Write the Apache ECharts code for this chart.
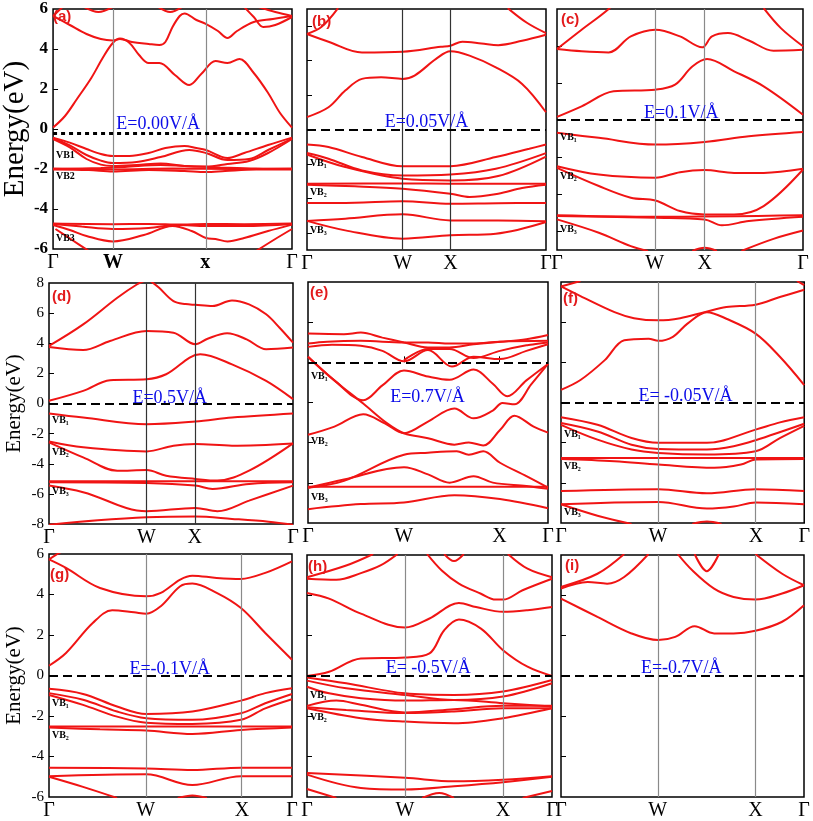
<!DOCTYPE html>
<html><head><meta charset="utf-8">
<script src="https://cdn.jsdelivr.net/npm/echarts@6/dist/echarts.min.js"></script>
<style>html,body{margin:0;padding:0;background:#fff}#c{width:813px;height:821px}</style>
</head><body><div id="c"></div><script>
// ---------- DATA ----------
const panelLetters = ['(a)','(b)','(c)','(d)','(e)','(f)','(g)','(h)','(i)'];
const kW = [0.251,0.40,0.397,0.399,0.399,0.399,0.398,0.40,0.398];
const kX = [0.637,0.60,0.60,0.597,0.798,0.802,0.794,0.80,0.80];
const yMin = [-6,-7,-7,-8,-8,-6,-6,-6,-6];
const yMax = [6,7,6,8,4,6,6,6,6];
const fermi = [-0.2,0,0,0,0,0,0,0,0];
const fieldText = ['E=0.00V/Å','E=0.05V/Å','E=0.1V/Å','E=0.5V/Å','E=0.7V/Å','E= -0.05V/Å','E=-0.1V/Å','E= -0.5V/Å','E=-0.7V/Å'];
const fieldPos = [[0.44,0.22],[0.5,0.42],[0.505,0.38],[0.495,0.38],[0.498,-1.72],[0.512,0.3],[0.497,0.3],[0.495,0.36],[0.495,0.36]];
const vbNames = [['VB1','VB2','VB3'],['VB₁','VB₂','VB₃'],['VB₁','VB₂','VB₃'],['VB₁','VB₂','VB₃'],['VB₁','VB₂','VB₃'],['VB₁','VB₂','VB₃'],['VB₁','VB₂'],['VB₁','VB₂'],[]];
const vbLevels = [[-1.32,-2.36,-5.48],[-1.99,-3.63,-5.86],[-0.95,-3.02,-5.89],[-1.15,-3.24,-5.83],[-0.71,-3.94,-6.73],[-1.6,-3.17,-5.48],[-1.4,-2.94],[-0.94,-2.04],[]];

const bandsA = [
 [[0,0.07],[0.05,0.65],[0.1,1.5],[0.16,2.55],[0.21,3.6],[0.25,4.3],[0.28,4.52],[0.32,4.3],[0.36,3.7],[0.40,3.3],[0.445,3.3],[0.51,2.7],[0.57,2.2],[0.62,2.75],[0.68,3.4],[0.73,3.3],[0.78,3.5],[0.84,2.8],[0.9,1.8],[0.95,0.8],[1,0.07]],
 [[0,5.65],[0.07,5.2],[0.14,4.75],[0.2,4.5],[0.25,4.43],[0.28,4.5],[0.33,4.35],[0.4,4.25],[0.445,4.2],[0.47,4.35],[0.5,5.1],[0.53,5.65],[0.55,5.78],[0.6,5.45],[0.637,5.27],[0.69,4.9],[0.73,4.55],[0.77,4.9],[0.84,5.35],[0.92,5.5],[1,5.65]],
 [[0.8,6.1],[0.84,5.6],[0.88,5.1],[0.93,5.2],[1,5.6]],
 [[0.13,6.1],[0.19,5.85],[0.25,6.1]],
 [[0.44,6.1],[0.49,5.85],[0.54,6.1]],
 [[0,5.65],[0.04,6.1]],
 [[0.86,6.1],[0.93,5.85],[1,5.65]],
 [[0,-0.43],[0.07,-0.68],[0.14,-1.0],[0.2,-1.25],[0.25,-1.35],[0.32,-1.35],[0.4,-1.2],[0.47,-0.95],[0.55,-0.85],[0.6,-0.95],[0.64,-1.05],[0.73,-1.45],[0.8,-1.2],[0.9,-0.8],[1,-0.43]],
 [[0,-0.46],[0.07,-0.82],[0.14,-1.3],[0.2,-1.58],[0.25,-1.7],[0.35,-1.65],[0.45,-1.4],[0.57,-1.05],[0.64,-1.2],[0.73,-1.55],[0.82,-1.5],[0.9,-1.05],[1,-0.48]],
 [[0,-0.5],[0.07,-0.92],[0.14,-1.5],[0.2,-1.78],[0.25,-1.85],[0.35,-1.8],[0.45,-1.72],[0.55,-1.85],[0.64,-1.88],[0.73,-1.75],[0.82,-1.6],[0.9,-1.2],[1,-0.5]],
 [[0,-1.98],[0.25,-2.02],[0.5,-1.98],[0.75,-2.0],[1,-1.98]],
 [[0,-2.02],[0.15,-2.05],[0.25,-2.12],[0.4,-2.05],[0.55,-2.1],[0.64,-2.15],[0.72,-2.1],[0.85,-2.03],[1,-2.02]],
 [[0,-2.0],[0.2,-1.95],[0.3,-1.9],[0.45,-1.8],[0.55,-1.85],[0.7,-1.92],[0.85,-1.98],[1,-2.0]],
 [[0,-4.73],[0.25,-4.76],[0.4,-4.75],[0.54,-4.78],[0.64,-4.75],[0.8,-4.76],[1,-4.73]],
 [[0,-4.75],[0.12,-4.88],[0.25,-5.0],[0.4,-4.95],[0.52,-4.8],[0.64,-4.85],[0.8,-4.85],[1,-4.75]],
 [[0,-4.8],[0.07,-5.05],[0.14,-5.35],[0.25,-5.62],[0.38,-5.3],[0.5,-4.85],[0.58,-5.1],[0.64,-5.45],[0.68,-5.5],[0.73,-5.62],[0.8,-5.45],[0.9,-5.1],[1,-4.78]],
 [[0.01,-5.0],[0.08,-5.55],[0.15,-6.1]],
 [[0.85,-6.1],[0.93,-5.5],[1,-5.0]]
];
const bandsB = [
 [[0,5.55],[0.06,5.95],[0.13,7.05]],
 [[0.84,7.05],[0.92,6.2],[1,5.6]],
 [[0,5.55],[0.09,5.1],[0.23,4.48],[0.4,4.52],[0.56,4.81],[0.6,4.87],[0.65,5.1],[0.73,5.0],[0.8,4.9],[0.9,5.15],[1,5.5]],
 [[0,0.72],[0.09,1.29],[0.16,2.26],[0.23,2.94],[0.31,3.03],[0.4,2.94],[0.45,3.13],[0.54,4.1],[0.6,4.54],[0.68,4.29],[0.79,3.61],[0.9,2.65],[1,1.0]],
 [[0,-0.87],[0.09,-1.02],[0.23,-1.6],[0.4,-2.14],[0.6,-2.13],[0.79,-1.6],[0.93,-1.12],[1,-0.87]],
 [[0,-1.37],[0.09,-1.7],[0.23,-2.38],[0.4,-2.67],[0.6,-2.61],[0.79,-2.28],[1,-1.37]],
 [[0,-1.45],[0.16,-2.18],[0.4,-2.86],[0.6,-2.96],[0.8,-2.7],[1,-1.57]],
 [[0,-3.15],[0.4,-3.13],[0.6,-3.15],[1,-3.15]],
 [[0,-3.21],[0.2,-3.3],[0.4,-3.44],[0.6,-3.73],[0.68,-3.92],[0.8,-3.73],[0.9,-3.4],[1,-3.21]],
 [[0,-4.27],[0.2,-4.25],[0.4,-4.17],[0.6,-4.31],[0.8,-4.28],[1,-4.27]],
 [[0,-5.31],[0.16,-5.18],[0.4,-4.93],[0.6,-5.28],[0.8,-5.28],[1,-5.33]],
 [[0,-5.31],[0.16,-5.86],[0.4,-6.34],[0.6,-6.14],[0.79,-6.05],[1,-5.37]]
];
const bandsC = [
 [[0,3.84],[0.1,4.88],[0.21,6.0],[0.24,6.5]],
 [[0,3.84],[0.1,3.72],[0.21,3.66],[0.3,4.52],[0.4,4.88],[0.5,4.52],[0.59,3.93],[0.63,4.52],[0.695,4.7],[0.78,4.3],[0.88,3.75],[1,3.8]],
 [[0.84,6.05],[0.91,4.97],[1,3.99]],
 [[0,0.18],[0.1,0.75],[0.23,1.56],[0.4,1.65],[0.48,1.92],[0.55,2.9],[0.61,3.3],[0.72,2.64],[0.84,1.83],[1,0.3]],
 [[0,-0.68],[0.17,-0.95],[0.4,-1.31],[0.6,-1.17],[0.78,-0.86],[1,-0.63]],
 [[0,-2.48],[0.17,-2.93],[0.4,-3.1],[0.5,-2.8],[0.6,-2.69],[0.72,-2.84],[0.84,-2.84],[1,-2.62]],
 [[0,-2.57],[0.17,-3.55],[0.3,-4.18],[0.4,-4.33],[0.5,-4.9],[0.6,-5.08],[0.72,-5.08],[0.84,-4.63],[1,-2.66]],
 [[0,-5.13],[0.4,-5.21],[1,-5.13]],
 [[0,-5.17],[0.4,-5.26],[0.6,-5.35],[0.67,-5.67],[0.78,-5.44],[1,-5.21]],
 [[0,-5.35],[0.17,-6.07],[0.3,-6.79],[0.37,-7.05]],
 [[0.55,-7.05],[0.6,-6.88],[0.65,-7.05]],
 [[0.75,-7.05],[0.88,-6.4],[1,-5.95]]
];
const bandsD = [
 [[0,3.82],[0.14,5.25],[0.28,7.02],[0.36,7.9],[0.4,8.2]],
 [[0.41,8.2],[0.45,7.7],[0.51,6.8],[0.56,6.6],[0.6,6.55],[0.67,6.47],[0.75,6.84],[0.82,6.58],[0.89,5.92],[0.945,5.03],[1,4.04]],
 [[0,3.75],[0.14,3.55],[0.25,4.15],[0.4,4.81],[0.51,4.7],[0.6,3.93],[0.65,4.3],[0.73,4.66],[0.81,4.26],[0.89,3.6],[1,3.71]],
 [[0,0.18],[0.14,0.84],[0.25,1.55],[0.4,1.61],[0.48,1.94],[0.62,3.27],[0.75,2.6],[0.89,1.5],[1,0.29]],
 [[0,-0.66],[0.14,-0.93],[0.4,-1.37],[0.6,-1.19],[0.75,-0.93],[1,-0.66]],
 [[0,-2.52],[0.14,-2.91],[0.4,-3.18],[0.51,-2.8],[0.6,-2.69],[0.75,-2.8],[1,-2.65]],
 [[0,-2.58],[0.14,-3.58],[0.28,-4.46],[0.4,-4.42],[0.48,-4.79],[0.6,-5.01],[0.69,-5.12],[0.82,-4.46],[1,-2.65]],
 [[0,-5.17],[0.5,-5.17],[1,-5.17]],
 [[0,-5.23],[0.4,-5.28],[0.6,-5.45],[0.67,-5.67],[0.82,-5.34],[1,-5.23]],
 [[0,-5.45],[0.14,-5.89],[0.4,-7.15],[0.6,-6.93],[0.69,-7.15],[0.82,-6.45],[1,-5.45]],
 [[0,-8.05],[0.2,-7.75],[0.4,-7.55],[0.6,-7.5],[0.75,-7.66],[0.9,-7.85],[1,-8.05]]
];
const bandsE = [
 [[0,1.43],[0.15,1.4],[0.22,1.48],[0.31,1.23],[0.4,0.99],[0.5,0.74],[0.59,0.74],[0.69,0.9],[0.8,1.02],[0.91,1.15],[1,1.36]],
 [[0,0.94],[0.08,1.03],[0.22,1.07],[0.4,0.99],[0.5,0.99],[0.59,0.94],[0.69,0.94],[0.8,1.03],[1,1.07]],
 [[0,0.77],[0.1,0.87],[0.22,0.82],[0.31,0.57],[0.4,0.05],[0.5,0.61],[0.6,-0.21],[0.69,0.28],[0.8,0.16],[0.91,0.57],[1,0.9]],
 [[0.4,0.11],[0.5,0.66],[0.59,0.66],[0.69,0.21],[0.8,0.57],[0.91,0.85],[1,0.99]],
 [[0,0.28],[0.11,-0.9],[0.23,-1.89],[0.31,-1.15],[0.4,-0.41],[0.5,-0.71],[0.59,-0.87],[0.69,-0.36],[0.77,-1.07],[0.83,-1.69],[0.91,-0.9],[1,-0.08]],
 [[0,0.28],[0.11,-0.9],[0.23,-2.05],[0.33,-3.04],[0.4,-3.53],[0.5,-3.78],[0.61,-4.1],[0.67,-3.99],[0.73,-4.14],[0.8,-3.37],[0.86,-2.66],[0.94,-3.2],[1,-3.5]],
 [[0,-3.61],[0.11,-3.2],[0.23,-2.58],[0.32,-3.04],[0.4,-3.53],[0.5,-2.95],[0.61,-2.3],[0.69,-2.79],[0.77,-2.4],[0.81,-2.02],[0.86,-2.09],[0.93,-1.1],[1,-0.08]],
 [[0,-6.24],[0.15,-5.9],[0.4,-4.6],[0.5,-4.5],[0.62,-4.43],[0.67,-4.6],[0.73,-4.43],[0.8,-5.0],[0.91,-5.67],[1,-6.24]],
 [[0,-6.24],[0.15,-5.83],[0.4,-5.22],[0.5,-5.58],[0.59,-5.99],[0.69,-5.67],[0.77,-5.99],[0.91,-6.16],[1,-6.3]],
 [[0,-6.19],[0.5,-6.19],[1,-6.19]],
 [[0,-7.31],[0.22,-7.06],[0.4,-6.98],[0.61,-6.62],[0.8,-6.81],[1,-7.27]]
];
const bandsF = [
 [[0,5.78],[0.08,6.05]],
 [[0,5.78],[0.08,5.3],[0.22,4.5],[0.3,4.2],[0.4,4.09],[0.49,4.2],[0.59,4.5],[0.68,4.75],[0.8,4.87],[0.9,5.25],[1,5.61]],
 [[0.97,6.05],[1,5.85]],
 [[0,0.63],[0.08,1.12],[0.18,2.11],[0.26,3.1],[0.36,3.18],[0.4,3.07],[0.46,3.27],[0.52,3.93],[0.6,4.5],[0.68,4.17],[0.8,3.43],[0.9,2.28],[1,0.87]],
 [[0,-0.73],[0.15,-1.11],[0.29,-1.77],[0.4,-2.01],[0.6,-2.01],[0.8,-1.35],[0.9,-0.99],[1,-0.73]],
 [[0,-1.02],[0.15,-1.44],[0.29,-2.1],[0.4,-2.31],[0.6,-2.34],[0.71,-2.18],[0.8,-1.88],[1,-1.06]],
 [[0,-1.11],[0.15,-1.85],[0.29,-2.34],[0.4,-2.51],[0.6,-2.59],[0.8,-2.43],[0.9,-1.77],[1,-1.16]],
 [[0,-2.76],[0.5,-2.76],[1,-2.76]],
 [[0,-2.81],[0.22,-2.92],[0.4,-3.09],[0.63,-3.25],[0.74,-3.09],[0.8,-2.84],[1,-2.81]],
 [[0,-4.41],[0.4,-4.32],[0.6,-4.52],[0.8,-4.32],[1,-4.41]],
 [[0,-5.07],[0.22,-4.98],[0.4,-4.95],[0.6,-5.28],[0.71,-5.18],[0.8,-4.98],[1,-5.07]],
 [[0,-5.07],[0.15,-5.64],[0.29,-6.05]],
 [[0.54,-6.05],[0.6,-5.93],[0.66,-6.05]]
];
const bandsG = [
 [[0,5.73],[0.03,5.97],[0.05,6.1]],
 [[0,5.73],[0.07,5.31],[0.21,4.32],[0.4,3.91],[0.46,4.08],[0.54,4.74],[0.59,4.93],[0.69,4.82],[0.79,4.77],[0.89,5.07],[1,5.64]],
 [[0,0.48],[0.07,1.11],[0.18,2.59],[0.26,3.22],[0.35,3.12],[0.4,3.05],[0.46,3.42],[0.54,4.41],[0.59,4.54],[0.69,4.08],[0.79,3.33],[0.89,2.1],[1,0.78]],
 [[0,-0.66],[0.14,-0.91],[0.28,-1.53],[0.4,-1.9],[0.59,-1.78],[0.79,-1.24],[0.89,-0.87],[1,-0.63]],
 [[0,-0.87],[0.14,-1.2],[0.28,-1.78],[0.4,-2.11],[0.59,-2.19],[0.79,-1.86],[0.89,-1.37],[1,-0.91]],
 [[0,-0.96],[0.14,-1.45],[0.28,-2.03],[0.4,-2.33],[0.59,-2.39],[0.79,-2.19],[0.89,-1.62],[1,-1.17]],
 [[0,-2.52],[0.5,-2.52],[1,-2.52]],
 [[0,-2.57],[0.21,-2.66],[0.4,-2.72],[0.59,-2.89],[0.79,-2.69],[1,-2.57]],
 [[0,-4.55],[0.4,-4.59],[0.59,-4.67],[0.79,-4.55],[1,-4.55]],
 [[0,-4.97],[0.4,-4.88],[0.59,-5.41],[0.79,-4.97],[1,-4.97]],
 [[0,-5.0],[0.14,-5.5],[0.28,-6.05]],
 [[0.53,-6.05],[0.59,-5.92],[0.65,-6.05]]
];
const bandsH = [
 [[0,4.9],[0.16,5.48],[0.27,6.05]],
 [[0,4.82],[0.12,4.77],[0.22,5.1],[0.3,5.48],[0.37,6.05]],
 [[0.49,6.05],[0.55,5.23],[0.62,4.58],[0.71,4.08],[0.77,3.79],[0.8,3.79],[0.88,4.25],[1,4.82]],
 [[0.56,6.05],[0.6,5.7],[0.64,6.05]],
 [[0.82,6.05],[0.9,5.32],[1,4.9]],
 [[0,4.12],[0.09,3.84],[0.22,3.09],[0.4,2.4],[0.5,2.85],[0.62,3.62],[0.69,3.42],[0.8,3.18],[0.9,3.26],[1,3.42]],
 [[0,0],[0.09,0.21],[0.22,0.87],[0.4,0.92],[0.5,1.12],[0.56,2.27],[0.62,2.8],[0.71,2.35],[0.8,1.28],[0.9,0.46],[1,0]],
 [[0,-0.07],[0.16,-0.36],[0.4,-0.86],[0.6,-0.94],[0.8,-0.77],[1,-0.2]],
 [[0,-0.23],[0.16,-0.61],[0.4,-0.94],[0.6,-1.19],[0.8,-1.02],[1,-0.36]],
 [[0,-0.53],[0.09,-0.86],[0.22,-1.1],[0.4,-1.22],[0.6,-1.19],[0.8,-1.35],[1,-1.51]],
 [[0,-1.48],[0.12,-1.22],[0.22,-1.43],[0.4,-1.81],[0.6,-1.65],[0.8,-1.48],[1,-1.48]],
 [[0,-1.55],[0.16,-1.68],[0.4,-1.84],[0.6,-1.76],[0.8,-1.6],[1,-1.6]],
 [[0,-1.6],[0.22,-2.09],[0.4,-2.26],[0.6,-2.34],[0.8,-2.09],[1,-1.6]],
 [[0,-4.81],[0.4,-5.05],[0.6,-5.22],[0.8,-5.14],[1,-4.97]],
 [[0,-4.89],[0.22,-5.55],[0.4,-5.63],[0.6,-5.47],[0.8,-5.27],[1,-5.0]],
 [[0,-5.6],[0.12,-6.05]],
 [[0.47,-6.05],[0.54,-5.8],[0.6,-6.05]],
 [[0.88,-6.05],[1,-5.7]]
];
const bandsI = [
 [[0,3.84],[0.15,2.93],[0.29,2.11],[0.4,1.78],[0.47,1.94],[0.55,2.47],[0.63,2.11],[0.71,2.11],[0.8,2.24],[0.91,2.69],[1,3.51]],
 [[0,4.33],[0.11,4.66],[0.19,4.58],[0.26,4.91],[0.36,6.05]],
 [[0,4.42],[0.15,5.07],[0.26,6.05]],
 [[0.48,6.05],[0.54,5.24],[0.63,4.33],[0.71,3.92],[0.8,3.79],[0.91,4.09],[1,4.5]],
 [[0.55,6.05],[0.6,5.2],[0.65,6.05]],
 [[0.8,6.05],[0.91,5.07],[1,4.5]]
];
const allBands = [bandsA,bandsB,bandsC,bandsD,bandsE,bandsF,bandsG,bandsH,bandsI];

// ---------- LAYOUT / STYLE ----------
const boxes = [
 [48,9,244,240],[307,9,239,241],[557,9,246,241],
 [49,283,244,241],[308,282,240,241],[561,282,244,241],
 [49,554,243,243],[307,555,245,243],[561,555,243,243]
];
const letterPos = [[53,9],[312,14],[561,12],[52,289],[310,285],[563,291],[50,567],[308,559],[565,558]];
const RED = '#f01414';
const BLUE = '#0c0ce8';
const SERIF = "'Liberation Serif','DejaVu Serif',serif";
const HIDDEN = 'rgba(0,0,0,0)';

const grids=[], xAxes=[], yAxes=[], series=[], graphics=[];
for (let i=0;i<9;i++){
  const b = boxes[i];
  grids.push({left:b[0], top:b[1], width:b[2], height:b[3], show:true, borderColor:'#000', borderWidth:1.5, backgroundColor:'transparent'});
  const isA = i===0;
  xAxes.push({
    gridIndex:i, type:'value', min:0, max:1,
    axisLine:{show:false}, splitLine:{show:false},
    axisTick: i===4 ? {show:true, inside:true, length:6, customValues:[kW[i],kX[i]], lineStyle:{color:'#000'}} : {show:false},
    axisLabel:{
      show:true, customValues:[0,kW[i],kX[i],1], showMinLabel:true, showMaxLabel:true,
      margin:4, fontSize:20, fontFamily:SERIF, color:'#000',
      formatter:(function(ii){return function(v){
        if (v<0.05||v>0.95) return 'Γ';
        const isW = Math.abs(v-kW[ii])<1e-6;
        if (ii===0) return isW ? '{b|W}' : '{b|x}';
        return isW ? 'W' : 'X';
      };})(i),
      rich:{b:{fontWeight:'bold', fontSize:20, fontFamily:SERIF, color:'#000'}}
    }
  });
  const ticks=[]; for(let t=Math.ceil(yMin[i]/2)*2; t<=yMax[i]; t+=2){ if(t>yMin[i]&&t<yMax[i]) ticks.push(t); }
  const labels=[]; for(let t=Math.ceil(yMin[i]/2)*2; t<=yMax[i]; t+=2){ labels.push(t); }
  const labeled = (i===0||i===3||i===6);
  yAxes.push({
    gridIndex:i, type:'value', min:yMin[i], max:yMax[i],
    axisLine:{show:false}, splitLine:{show:false},
    axisTick:{show:true, inside:true, length:5, customValues:ticks, lineStyle:{color:'#000', width:1}},
    axisLabel:{show:labeled, customValues:labels, showMinLabel:true, showMaxLabel:true, margin:5,
      fontSize: isA?17:15, fontWeight: isA?'bold':'normal', fontFamily:SERIF, color:'#000'},
    name: labeled ? 'Energy(eV)' : '', nameLocation:'middle', nameGap: isA?22:24,
    nameTextStyle:{fontSize: isA?29:21, fontFamily:SERIF, color:'#000'}
  });
  const vlineColor = (i===1||i===3) ? '#333' : '#8a8a8a';
  const mlData = [];
  if (i!==4){ mlData.push({xAxis:kW[i], lineStyle:{color:vlineColor, width:1.2, type:'solid'}}); mlData.push({xAxis:kX[i], lineStyle:{color:vlineColor, width:1.2, type:'solid'}}); }
  mlData.push({yAxis:fermi[i], lineStyle: isA ? {color:'#000', width:3, type:[4,4]} : {color:'#000', width:2, type:[9,5]}});
  allBands[i].forEach((band)=>{
    series.push({type:'line', xAxisIndex:i, yAxisIndex:i, data:band, smooth:0.35, symbol:'none', showSymbol:false,
      lineStyle:{color:RED, width:2}, silent:true, clip:true, z:3});
  });
  series.push({type:'line', xAxisIndex:i, yAxisIndex:i, data:[], symbol:'none', silent:true, z:2,
    markLine:{silent:true, symbol:['none','none'], label:{show:false}, animation:false, data:mlData}});
  // field text
  series.push({type:'scatter', xAxisIndex:i, yAxisIndex:i, data:[fieldPos[i]], symbolSize:1, itemStyle:{color:HIDDEN}, silent:true, z:5,
    label:{show:true, position:'inside', formatter:fieldText[i], fontSize:18, fontFamily:SERIF, color:BLUE, opacity:1}});
  // VB labels
  if (vbNames[i].length){
    series.push({type:'scatter', xAxisIndex:i, yAxisIndex:i,
      data: vbNames[i].map((n,k)=>({value:[0.01, vbLevels[i][k]], name:n})),
      symbolSize:1, itemStyle:{color:HIDDEN}, silent:true, z:5,
      label:{show:true, position:'right', distance:0, formatter:'{b}', fontSize:10, fontWeight:'bold', fontFamily:SERIF, color:'#000', opacity:1}});
  }
  graphics.push({type:'text', left:letterPos[i][0], top:letterPos[i][1], z:10,
    style:{text:panelLetters[i], fontSize:15, fontWeight:'bold', fontFamily:"'Liberation Sans',Arial,sans-serif", fill:'#e31a1c'}});
}

const chart = echarts.init(document.getElementById('c'), null, {renderer:'canvas'});
chart.setOption({animation:false, backgroundColor:'#fff', textStyle:{fontFamily:SERIF},
  grid:grids, xAxis:xAxes, yAxis:yAxes, series:series, graphic:graphics});
</script></body></html>
